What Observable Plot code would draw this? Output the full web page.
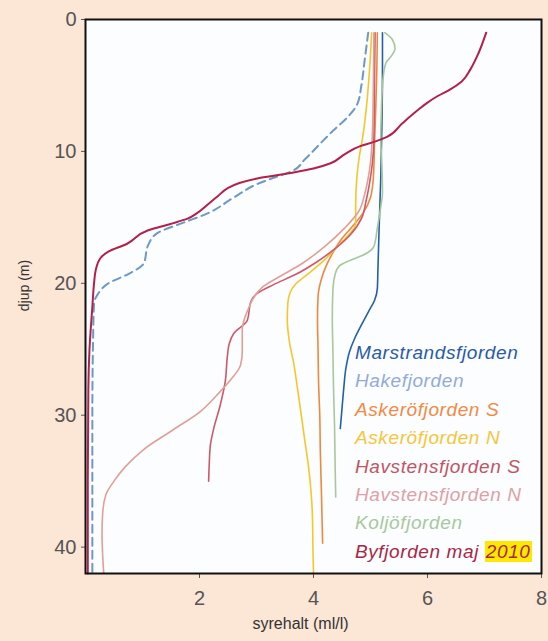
<!DOCTYPE html>
<html><head><meta charset="utf-8">
<script src="https://cdn.jsdelivr.net/npm/d3@7"></script>
<script src="https://cdn.jsdelivr.net/npm/@observablehq/plot@0.6"></script>
<style>
html,body{margin:0;padding:0;background:#fce6d6;}
#wrap{position:relative;width:548px;height:641px;background:#fce6d6;font-family:"Liberation Sans",Arial,sans-serif;overflow:hidden;}
#legend{position:absolute;left:355px;top:339px;font-style:italic;font-size:19px;line-height:28.4px;white-space:nowrap;letter-spacing:0.6px;}
#legend .hl{background:#ffe800;padding:0 1px;}
</style></head><body><div id="wrap"><div id="chart"></div><div id="legend"></div></div>
<script>
// Stations (legend order)
const stations = ["Marstrandsfjorden","Hakefjorden","Askeröfjorden S","Askeröfjorden N","Havstensfjorden S","Havstensfjorden N","Koljöfjorden","Byfjorden maj 2010"];
const lineColors = ["#2460a8","#6d9ac4","#f0883c","#f6c62a","#cc5a68","#e0a096","#a8c898","#b3204a"];
const legendColors = ["#2a5aa8","#93abd6","#f08a44","#f6c63a","#c25464","#e0a0a4","#aac79e","#a82848"];
const xTicks = [2, 4, 6, 8];
const yTicks = [0, 10, 20, 30, 40];

// [oxygen (ml/l), depth (m)]
const marstrand = [[5.21,1.0],[5.21,4],[5.2,8],[5.18,12],[5.15,16],[5.13,19],[5.12,20.4],[5.07,21.3],[4.97,22.1],[4.86,23.0],[4.72,24.2],[4.63,25.2],[4.57,26.4],[4.53,28],[4.5,29.5],[4.47,31.0]];
const hake = [[4.96,1.0],[4.9,3.0],[4.84,5.0],[4.77,6.4],[4.6,7.4],[4.35,8.4],[4.12,9.4],[3.85,10.6],[3.62,11.5],[3.3,12.0],[3.0,12.5],[2.6,13.5],[2.14,14.7],[1.72,15.4],[1.26,16.2],[1.1,17.1],[1.02,18.5],[0.75,19.3],[0.4,20.0],[0.22,20.8],[0.15,21.5],[0.13,25],[0.12,30],[0.12,36],[0.12,42]];
const askeroS = [[5.12,1.0],[5.11,4],[5.09,7],[5.07,9.5],[5.05,12],[5.0,13.5],[4.88,14.6],[4.7,15.6],[4.5,16.6],[4.35,17.6],[4.22,18.7],[4.13,19.8],[4.08,21],[4.07,22.7],[4.08,25],[4.09,27.7],[4.11,30],[4.12,32.8],[4.14,36],[4.16,39.7]];
const askeroN = [[5.02,1.0],[4.98,4],[4.92,7],[4.86,9],[4.8,10.5],[4.76,12],[4.74,14],[4.74,15.5],[4.6,16.4],[4.4,17.3],[4.15,18.4],[3.9,19.3],[3.7,20.0],[3.6,20.6],[3.55,21.5],[3.54,22.7],[3.58,24.5],[3.65,26],[3.72,28],[3.77,29.5],[3.85,32],[3.91,33.8],[3.96,36],[3.98,37.5],[3.99,40],[4.0,42]];
const havstensS = [[5.08,1.0],[5.07,5],[5.06,9],[5.03,11],[4.98,12.5],[4.92,13.8],[4.85,15],[4.65,16.3],[4.4,17.3],[4.05,18.4],[3.7,19.3],[3.3,20.1],[3.0,20.8],[2.9,21.4],[2.84,22.8],[2.6,23.8],[2.52,24.6],[2.49,25.5],[2.45,27.5],[2.36,29.3],[2.25,31],[2.19,32.3],[2.17,33.8],[2.16,35.0]];
const havstensN = [[5.06,1.0],[5.05,5],[5.03,9],[4.98,11.5],[4.9,13.2],[4.8,14.5],[4.55,15.8],[4.2,17.2],[3.8,18.5],[3.4,19.5],[3.1,20.3],[2.95,21.1],[2.85,22],[2.75,23.5],[2.75,25.2],[2.72,26.2],[2.55,27.3],[2.3,28.5],[2.02,29.7],[1.54,31.1],[1.02,32.6],[0.7,33.9],[0.5,35.0],[0.36,36.0],[0.3,37.5],[0.29,39],[0.3,40.5],[0.32,42]];
const koljo = [[5.25,1.0],[5.38,1.5],[5.43,2.2],[5.36,2.8],[5.27,3.3],[5.22,4.5],[5.19,7],[5.18,9],[5.2,11],[5.21,13.2],[5.18,14.2],[5.12,15.8],[5.06,17.2],[4.9,17.8],[4.62,18.3],[4.45,18.7],[4.38,19.3],[4.34,20.5],[4.33,22.7],[4.34,25],[4.35,27.7],[4.37,31],[4.38,34],[4.39,36.2]];
const byfjorden = [[7.03,1.0],[6.9,2.5],[6.75,3.8],[6.6,4.7],[6.4,5.3],[6.18,5.8],[6.0,6.3],[5.82,6.9],[5.55,7.9],[5.29,8.9],[5.05,9.3],[4.82,9.6],[4.55,10.2],[4.3,10.9],[4.0,11.3],[3.65,11.6],[3.07,12.0],[2.7,12.4],[2.49,12.8],[2.32,13.4],[2.15,14.0],[1.95,14.7],[1.79,15.1],[1.49,15.5],[1.09,16.0],[0.73,17.0],[0.4,17.6],[0.26,18.1],[0.18,19.0],[0.15,20.0],[0.12,21.8],[0.07,25],[0.05,28],[0.04,35],[0.04,42]];

const series = [marstrand, hake, askeroS, askeroN, havstensS, havstensN, koljo, byfjorden];
const rows = series.flatMap((pts, i) => pts.map(([o2, depth]) => ({station: stations[i], o2, depth})));
const isHake = d => d.station === stations[1];
const isBy = d => d.station === stations[7];

const chart = Plot.plot({
  width: 548, height: 641,
  marginLeft: 85, marginRight: 7, marginTop: 19, marginBottom: 68,
  style: {background: "transparent", fontFamily: "'Liberation Sans', Arial, sans-serif", fontSize: "20px", color: "#555", overflow: "visible"},
  x: {domain: [0, 8]},
  y: {domain: [0, 42], reverse: true},
  color: {domain: stations, range: lineColors},
  marks: [
    Plot.frame({fill: "#fbfdff", stroke: null}),
    Plot.axisY({ticks: yTicks, tickSize: 4, tickPadding: 5, label: null, color: "#555", fontSize: 20}),
    Plot.axisX({ticks: xTicks, tickSize: 5, tickPadding: 12, label: null, color: "#555", fontSize: 20}),
    Plot.line(rows.filter(d => !isHake(d) && !isBy(d)), {x: "o2", y: "depth", z: "station", stroke: "station", strokeWidth: 1.6, curve: "monotone-y"}),
    Plot.line(rows.filter(isHake), {x: "o2", y: "depth", stroke: "station", strokeWidth: 2, strokeDasharray: "8,5", curve: "monotone-y"}),
    Plot.line(rows.filter(isBy), {x: "o2", y: "depth", stroke: "station", strokeWidth: 2, curve: "monotone-y"}),
    Plot.frame({stroke: "#111", strokeWidth: 2}),
    Plot.text(["djup (m)"], {text: d => d, frameAnchor: "left", textAnchor: "middle", rotate: -90, dx: -61, dy: -11, fontSize: 14, fill: "#333"}),
    Plot.text(["syrehalt (ml/l)"], {text: d => d, frameAnchor: "bottom", dx: -13, dy: 55, fontSize: 16, fill: "#333"})
  ]
});
document.getElementById("chart").appendChild(chart);

const legend = document.getElementById("legend");
stations.forEach((s, i) => {
  const div = document.createElement("div");
  div.style.color = legendColors[i];
  if (i === stations.length - 1) {
    const parts = s.split(" ");
    const last = parts.pop();
    div.append(parts.join(" ") + " ");
    const span = document.createElement("span");
    span.className = "hl";
    span.textContent = last;
    div.appendChild(span);
  } else {
    div.textContent = s;
  }
  legend.appendChild(div);
});
</script>
</body></html>
